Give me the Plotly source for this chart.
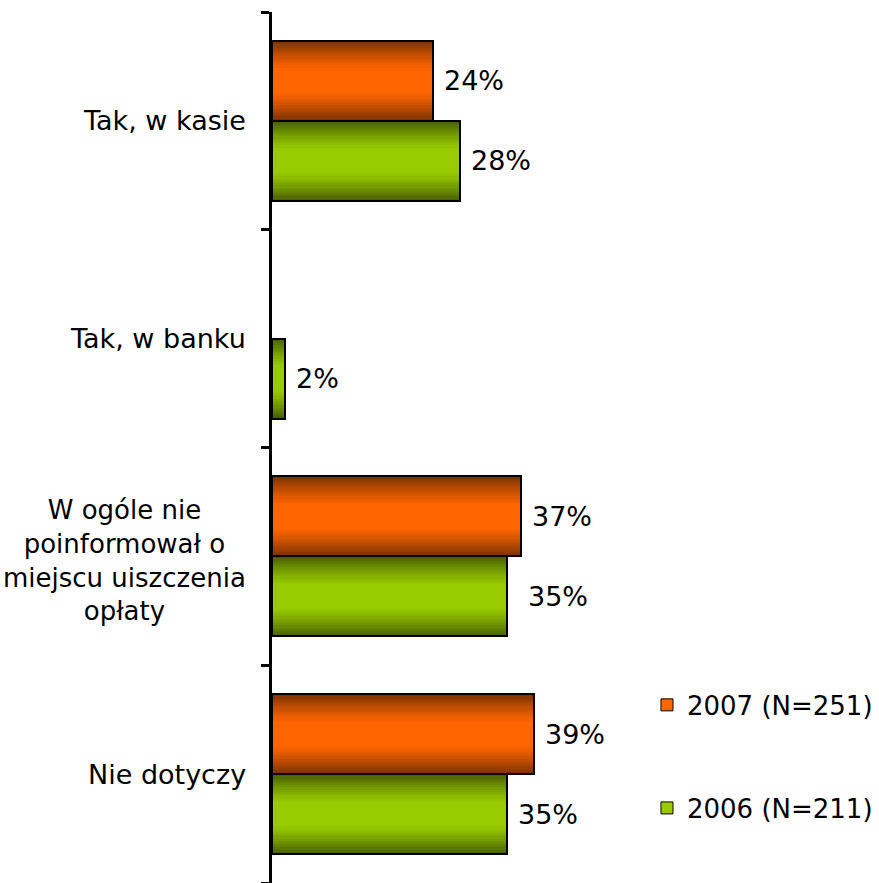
import plotly.graph_objects as go

# --- chart data -------------------------------------------------------------
categories = [
    "Tak, w kasie",
    "Tak, w banku",
    "W ogóle nie<br>poinformował o<br>miejscu uiszczenia<br>opłaty",
    "Nie dotyczy",
]
series_names = ["2007 (N=251)", "2006 (N=211)"]
values_2007 = [24, 0, 37, 39]
values_2006 = [28, 2, 35, 35]

# --- styling ----------------------------------------------------------------
FONT = "Tahoma, 'DejaVu Sans', Verdana, sans-serif"
FONT_SIZE = 27
# (edge colour, centre colour) for the cylinder-like shading of each series
SHADES = [((128, 51, 0), (255, 102, 0)), ((74, 99, 0), (153, 204, 0))]
LEGEND_COLORS = ["#ff6600", "#99cc00"]

GROUP_WIDTH = 0.735
BAR_H = GROUP_WIDTH / 2
OFFSETS = [-BAR_H / 2, BAR_H / 2]
N_LAYERS = 18

series_values = [values_2007, values_2006]


def mix(c_edge, c_mid, s):
    r, g, b = (round(m + (e - m) * s) for e, m in zip(c_edge, c_mid))
    return f"rgb({r},{g},{b})"


fig = go.Figure()

for si, vals in enumerate(series_values):
    ys = [i + OFFSETS[si] for i in range(len(categories))]
    edge, mid = SHADES[si]
    # nested bars: full-height dark layer first, narrower brighter layers on top
    for k in range(N_LAYERS):
        frac = 1 - k / N_LAYERS
        s = min(max((frac - 0.3) / 0.7, 0.0), 1.0) ** 1.2
        fig.add_trace(go.Bar(
            x=vals, y=ys, orientation="h",
            width=BAR_H * frac,
            marker=dict(color=mix(edge, mid, s), line=dict(width=0)),
            showlegend=False, hoverinfo="skip",
        ))
    # black outline
    xs = [v if v else None for v in vals]
    fig.add_trace(go.Bar(
        x=xs, y=ys, orientation="h", width=BAR_H,
        marker=dict(color="rgba(0,0,0,0)", line=dict(color="black", width=2)),
        showlegend=False, hoverinfo="skip",
    ))
    # legend entry
    fig.add_trace(go.Bar(
        x=[None], y=[None], orientation="h", name=series_names[si],
        marker=dict(color=LEGEND_COLORS[si], line=dict(color="black", width=1)),
        legend="legend" if si == 0 else "legend2",
    ))

# value labels
label_nudge = {(1, 2): 10}
annotations = []
for si, vals in enumerate(series_values):
    for i, v in enumerate(vals):
        if not v:
            continue
        annotations.append(dict(
            x=v, y=i + OFFSETS[si], xref="x", yref="y",
            text=f"{v}%", showarrow=False, xanchor="left", yanchor="middle",
            xshift=9 + label_nudge.get((si, i), 0),
            font=dict(family=FONT, size=FONT_SIZE, color="black"),
        ))

# category labels: right-aligned block, wrapped lines centred within it
for i, cat in enumerate(categories):
    wrapped = "<br>" in cat
    annotations.append(dict(
        x=0, y=i, xref="paper", yref="y",
        text=cat, showarrow=False, xanchor="right", yanchor="middle",
        align="center", xshift=-24, yshift=-4 if wrapped else 0,
        font=dict(family=FONT, size=FONT_SIZE - 1 if wrapped else FONT_SIZE,
                  color="black"),
    ))

legend_font = dict(family=FONT, size=FONT_SIZE - 1, color="black")

fig.update_layout(
    width=879, height=883,
    margin=dict(l=272, r=271, t=12, b=0, autoexpand=False),
    barmode="overlay", bargap=0,
    plot_bgcolor="white", paper_bgcolor="white",
    font=dict(family=FONT, size=FONT_SIZE, color="black"),
    xaxis=dict(visible=False, range=[0, 50], fixedrange=True),
    yaxis=dict(
        range=[3.5, -0.5],
        tickmode="array", tickvals=[-0.5, 0.5, 1.5, 2.5, 3.5],
        ticks="outside", ticklen=8, tickwidth=3, tickcolor="black",
        showticklabels=False, showgrid=False, zeroline=False,
        showline=True, linewidth=3, linecolor="black",
    ),
    legend=dict(
        x=1.116, y=0.2044, xanchor="left", yanchor="middle",
        bgcolor="rgba(0,0,0,0)", font=legend_font,
    ),
    legend2=dict(
        x=1.116, y=0.0861, xanchor="left", yanchor="middle",
        bgcolor="rgba(0,0,0,0)", font=legend_font,
    ),
    annotations=annotations,
    showlegend=True,
)

fig.write_html("out.html")
